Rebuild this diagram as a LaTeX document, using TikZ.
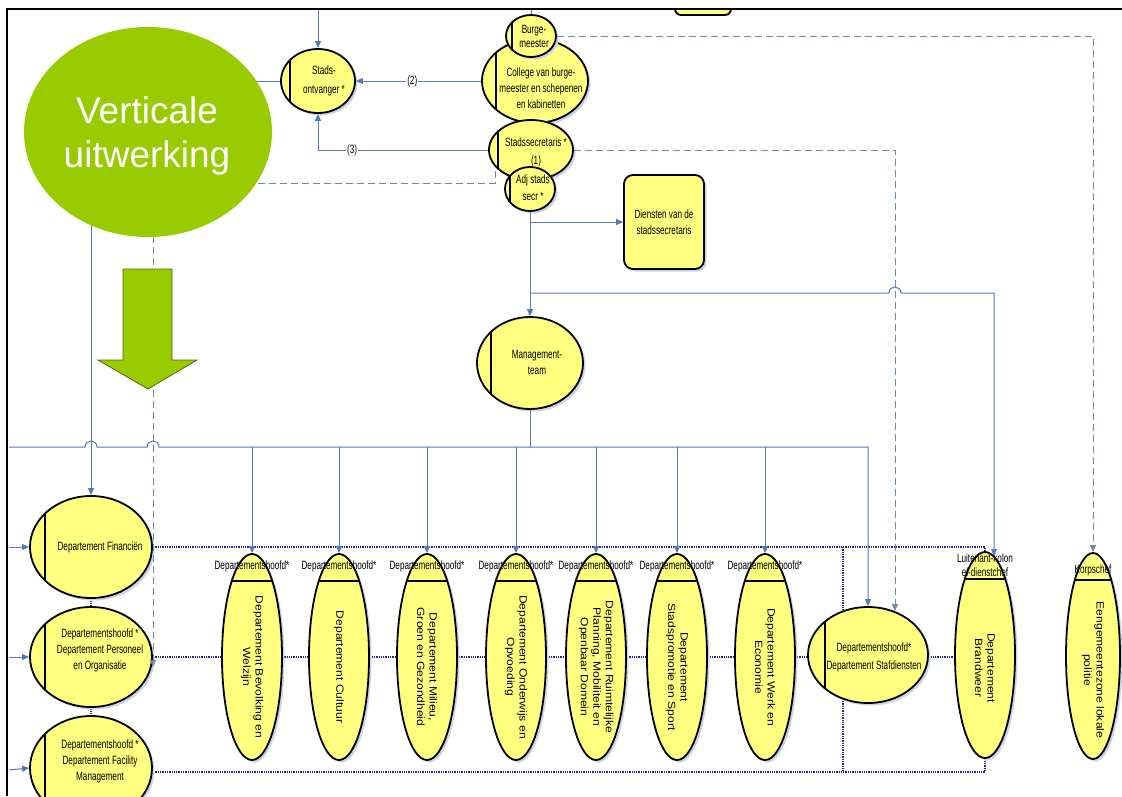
\documentclass[tikz,border=0pt]{standalone}
\usepackage{fontspec}
\setmainfont{Liberation Sans}
\newfontfamily\nf[FakeStretch=0.68]{Liberation Sans}
\newfontfamily\wf[FakeStretch=1.15]{Liberation Sans}
\usetikzlibrary{shapes.geometric,arrows.meta,shadows}
\definecolor{yel}{RGB}{255,255,128}
\definecolor{cnc}{RGB}{85,120,185}
\definecolor{dsh}{RGB}{110,135,170}
\definecolor{navy}{RGB}{35,35,150}
\definecolor{grn}{RGB}{153,204,0}
\definecolor{shd}{RGB}{205,212,232}
\definecolor{grnline}{RGB}{80,100,20}
\tikzset{
  shd/.style={drop shadow={shadow xshift=2.5pt, shadow yshift=-2.5pt, fill=shd, opacity=1}},
  hell/.style={ellipse, draw=black, line width=1.8pt, fill=yel, inner sep=0pt, shd,
    path picture={\draw[line width=2.4pt] ([xshift=#1]path picture bounding box.north west) -- ([xshift=#1]path picture bounding box.south west);}},
  hell/.default=14pt,
  vell/.style={ellipse, draw=black, line width=1.8pt, fill=yel, inner sep=0pt, shd,
    minimum width=60pt, minimum height=206pt,
    path picture={\draw[line width=2.4pt] ([yshift=-27pt]path picture bounding box.north west) -- ([yshift=-27pt]path picture bounding box.north east);}},
  txt/.style={font=\nf\fontsize{12}{16}\selectfont, align=center, inner sep=0pt},
  rtxt/.style={font=\wf\fontsize{10.5}{12.5}\selectfont, align=center, rotate=-90, inner sep=0pt},
  hdr/.style={font=\nf\fontsize{12}{14}\selectfont, align=center, inner sep=0pt},
  cn/.style={draw=cnc, line width=1pt},
  dsl/.style={draw=dsh, line width=1pt, dash pattern=on 7pt off 4pt},
  dtl/.style={draw=navy, line width=1.2pt, dash pattern=on 1.3pt off 1pt},
  tip/.style={-{Triangle[length=7pt,width=6pt]}},
}
\begin{document}
\begin{tikzpicture}[x=1pt,y=-1pt]
\useasboundingbox (0,0) rectangle (1122,796);
\fill[white] (0,0) rectangle (1122,796);

% ---------- coordinates
\coordinate (hl) at (0,447);
\coordinate (lf1) at (9,547);
\coordinate (lf2) at (9,657);
\coordinate (lf3) at (9,770);
\coordinate (ssout) at (495,171);
\coordinate (dend) at (153,667);
\coordinate (j1) at (530,222);
\coordinate (j2) at (530,293);
\coordinate (brin) at (994,556);
\coordinate (stafin) at (895,611);
\coordinate (topa) at (318,9);
\coordinate (topb) at (531,9);
\coordinate (dv1) at (843,547);
\coordinate (dv2) at (843,772);

% ---------- top clipped box
\begin{scope}
\clip (0,9) rectangle (1122,40);
\node[draw, line width=1.8pt, fill=yel, rounded corners=6pt, minimum width=56pt, minimum height=30pt] (topbox) at (703,0) {};
\end{scope}

% ---------- dotted lines (behind nodes)
\draw[dtl] (91,547) -- (985,547) -- (985,556);
\draw[dtl] (91,657) -- (985,657);
\draw[dtl] (91,772) -- (985,772) -- (985,756);
\draw[dtl] (dv1) -- (dv2);
\draw[dtl] (91,596) -- (91,608);
\draw[dtl] (91,706) -- (91,717);
\draw[navy, line width=1.2pt] (650,707) -- (663,707);

% ---------- nodes
\node[hell=9pt, minimum width=74pt, minimum height=64pt] (so) at (318,81) {};
\node[txt, font=\nf\fontsize{12}{19}\selectfont] (so-t) at (324,81) {Stads-\\ontvanger *};

\node[hell=14pt, minimum width=106pt, minimum height=84pt] (col) at (535,81) {};
\node[txt] (col-t) at (541,88) {College van burge-\\meester en schepenen\\en kabinetten};

\node[hell=6pt, minimum width=50pt, minimum height=42pt] (burg) at (531,36) {};
\node[txt, font=\nf\fontsize{12}{14}\selectfont] (burg-t) at (534,36) {Burge-\\meester};

\node[hell=9pt, minimum width=84pt, minimum height=60pt] (ss) at (531,150) {};
\node[txt, font=\nf\fontsize{12}{18}\selectfont] (ss-t) at (536,152) {Stadssecretaris *\\(1)};

\node[hell=5pt, minimum width=50pt, minimum height=44pt] (adj) at (530,189) {};
\node[txt, font=\nf\fontsize{12}{17}\selectfont] (adj-t) at (533,188) {Adj stads\\secr *};

\node[draw, line width=1.8pt, fill=yel, rounded corners=9pt, minimum width=80pt, minimum height=94pt, shd] (dien) at (664,222) {};
\node[txt] (dien-t) at (664,222) {Diensten van de\\stadssecretaris};

\node[hell=14pt, minimum width=106pt, minimum height=92pt] (mt) at (530,363) {};
\node[txt] (mt-t) at (537,362) {Management-\\team};

\node[hell=15pt, minimum width=122pt, minimum height=102pt] (fin) at (91,547) {};
\node[txt] (fin-t) at (100,547) {Departement Financiën};
\node[hell=15pt, minimum width=122pt, minimum height=100pt] (po) at (91,657) {};
\node[txt] (po-t) at (100,650) {Departementshoofd *\\Departement Personeel\\en Organisatie};
\node[hell=15pt, minimum width=122pt, minimum height=104pt] (fm) at (91,768) {};
\node[txt] (fm-t) at (100,761) {Departementshoofd *\\Departement Facility\\Management};

\node[hell=17pt, minimum width=120pt, minimum height=96pt] (staf) at (868,655) {};
\node[txt, font=\nf\fontsize{12}{18}\selectfont] (staf-t) at (874,657) {Departementshoofd*\\Departement Stafdiensten};

% vertical departments
\foreach \n/\x/\t in {d1/252/{Departement Bevolking en\\Welzijn},
                      d2/339/{Departement Cultuur},
                      d3/427/{Departement Milieu,\\Groen en Gezondheid},
                      d4/516/{Departement Onderwijs en\\Opvoeding},
                      d5/596/{Departement Ruimtelijke\\Planning, Mobiliteit en\\Openbaar Domein},
                      d6/677/{Departement\\Stadspromotie en Sport},
                      d7/765/{Departement Werk en\\Economie}}{
  \node[vell] (\n) at (\x,657) {};
  \node[rtxt] (\n-t) at (\x,667) {\t};
  \node[hdr] (\n-h) at (\x,566) {Departementshoofd*};
}
\node[vell] (brand) at (985,655) {};
\node[rtxt] (brand-t) at (985,668) {Departement\\Brandweer};
\node[hdr] (brand-h) at (985,565) {Luitenant-kolon\\el-dienstchef};
\node[vell, minimum width=54pt] (korps) at (1093,656) {};
\node[rtxt] (korps-t) at (1093,670) {Eengemeentezone lokale\\politie};
\node[hdr] (korps-h) at (1093,570) {Korpschef};

% ---------- connectors
\draw[cn,tip] (topa) -- (so.north);
\draw[cn] (topb) -- (burg.north);
\draw[cn,tip] (col.west) -- (so.east) node[pos=0.55, txt, fill=white, inner sep=1pt] (l2) {(2)};
\draw[cn,tip] (ss.west) -| (so.south) node[pos=0.4, txt, fill=white, inner sep=1pt] (l3) {(3)};
\draw[cn,tip] (so.west) -| (fin.north);
\draw[dsl,tip] (ssout) -- (495,183) -| (dend);
\draw[dsl,tip] (burg.east) -| (korps.north);
\draw[dsl,tip] (ss.east) -| (stafin);
\draw[cn,tip] (adj.south) -- (mt.north);
\draw[cn,tip] (j1) -- (dien.west);
\draw[cn,tip] (j2) -- (889,293) .. controls (889,285) and (901,285) .. (901,293) -- (994,293) -- (brin);
\draw[cn] (mt.south) -- (530,447);
\draw[cn,tip] (9,447) -- (85,447) .. controls (85,439) and (97,439) .. (97,447) -- (147,447) .. controls (147,439) and (159,439) .. (159,447) -- (868,447) -- (staf.north);
\foreach \n in {d1,d2,d3,d4,d5,d6,d7}{
  \draw[cn,tip] (\n.north |- hl) -- (\n.north);
}
\draw[cn,tip] (lf1) -- (fin.west);
\draw[cn,tip] (lf2) -- (po.west);
\draw[cn,tip] (lf3) -- (fm.west);

% ---------- green overlay
\node[ellipse, fill=grn, minimum width=248pt, minimum height=210pt, inner sep=0pt] (green) at (148,132) {};
\node[font=\fontsize{37}{44}\selectfont, text=white, align=center, inner sep=0pt] (green-t) at (147,136) {Verticale\\uitwerking};
\draw[fill=grn, draw=grnline, line width=0.8pt] (123,269) -- (172,269) -- (172,360) -- (197,360) -- (148,389) -- (98,360) -- (123,360) -- cycle;

% ---------- frame
\draw[line width=2pt] (7,796) -- (7,9) -- (1122,9);
\end{tikzpicture}
\end{document}
